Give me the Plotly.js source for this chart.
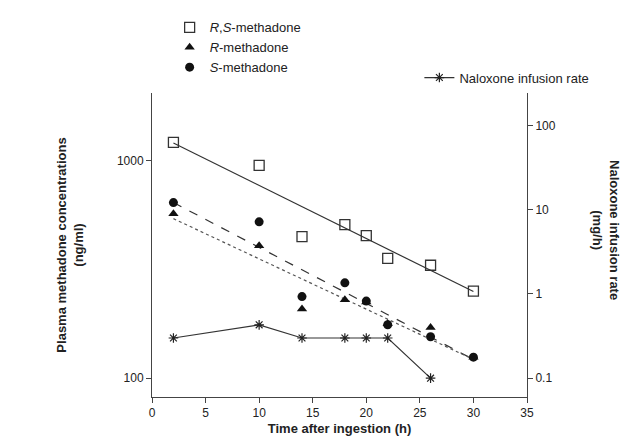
<!DOCTYPE html>
<html><head><meta charset="utf-8">
<script src="https://cdn.plot.ly/plotly-3.0.1.min.js"></script>
<style>body{margin:0;background:#fff}#c{width:637px;height:444px}</style>
</head><body><div id="c"></div>
<script>
const hours = [2, 10, 14, 18, 20, 22, 26, 30];
const rsMethadone = [1208, 948, 447, 507, 451, 355, 330, 251];
const rMethadone = [568, 406, 208, 229, 224, 178, 171, 125];
const sMethadone = [640, 522, 237, 274, 226, 176, 155, 125];
const fitHours = [2, 30];
const rsFit = [1200, 250];
const sFit = [640, 122];
const rFit = [540, 122];
const naloxoneHours = [2, 10, 14, 18, 20, 22, 26];
const naloxoneRate = [0.3, 0.43, 0.3, 0.3, 0.3, 0.3, 0.1];

const FONT = { family: "Liberation Sans, Arial, sans-serif", size: 12, color: "#222" };
const traces = [
  { x: fitHours, y: rsFit, mode: "lines", line: { color: "#333", width: 1.2 }, showlegend: false, hoverinfo: "skip" },
  { x: fitHours, y: sFit, mode: "lines", line: { color: "#333", width: 1.2, dash: "dash" }, showlegend: false, hoverinfo: "skip" },
  { x: fitHours, y: rFit, mode: "lines", line: { color: "#555", width: 1.2, dash: "dot" }, showlegend: false, hoverinfo: "skip" },
  { x: hours, y: rsMethadone, mode: "markers", name: "<i>R</i>,<i>S</i>-methadone",
    marker: { symbol: "square-open", size: 10, color: "#333", line: { width: 1.3 } } },
  { x: hours, y: rMethadone, mode: "markers", name: "<i>R</i>-methadone",
    marker: { symbol: "triangle-up", size: 9, color: "#111" } },
  { x: hours, y: sMethadone, mode: "markers", name: "<i>S</i>-methadone",
    marker: { symbol: "circle", size: 9, color: "#111" } },
  { x: naloxoneHours, y: naloxoneRate, yaxis: "y2", legend: "legend2", mode: "lines+markers", name: "Naloxone infusion rate",
    line: { color: "#333", width: 1.2 }, marker: { symbol: "asterisk-open", size: 8, color: "#222", line: { width: 1.2, color: "#222" } } },
];

Plotly.newPlot("c", traces, {
  width: 637, height: 444,
  paper_bgcolor: "#fff", plot_bgcolor: "#fff",
  font: FONT,
  margin: { l: 152, r: 110, t: 90, b: 47 },
  showlegend: true,
  legend: { x: 0.047, xanchor: "left", y: 1.265, yanchor: "top", bgcolor: "rgba(0,0,0,0)",
    font: { size: 13 }, tracegroupgap: 0, itemwidth: 30 },
  legend2: { x: 0.713, xanchor: "left", y: 1.1, yanchor: "top", bgcolor: "rgba(0,0,0,0)", font: { size: 13 } },
  xaxis: {
    range: [0, 35], tickvals: [0, 5, 10, 15, 20, 25, 30, 35], showgrid: false, zeroline: false,
    showline: true, linecolor: "#444", ticks: "outside", ticklen: 5, tickcolor: "#444",
    title: { text: "<b>Time after ingestion (h)</b>", font: { size: 13 }, standoff: 4 },
  },
  yaxis: {
    type: "log", range: [1.914, 3.309], tickvals: [100, 1000], ticktext: ["100", "1000"],
    showgrid: false, zeroline: false, showline: true, linecolor: "#444",
    ticks: "outside", ticklen: 5, tickcolor: "#444",
    title: { text: "<b>Plasma methadone concentrations<br>(ng/ml)</b>", font: { size: 13 }, standoff: 30 },
  },
  yaxis2: {
    type: "log", overlaying: "y", side: "right", range: [-1.224, 2.388],
    tickvals: [0.1, 1, 10, 100], ticktext: ["0.1", "1", "10", "100"],
    showgrid: false, zeroline: false, showline: true, linecolor: "#444",
    ticks: "outside", ticklen: 5, tickcolor: "#444",
  },
  annotations: [{
    text: "<b>Naloxone infusion rate<br>(mg/h)</b>", textangle: 90, font: { size: 13 },
    xref: "paper", yref: "paper", x: 1.21, y: 0.55, xanchor: "center", yanchor: "middle", showarrow: false,
  }],
}, { displayModeBar: false });
</script></body></html>
